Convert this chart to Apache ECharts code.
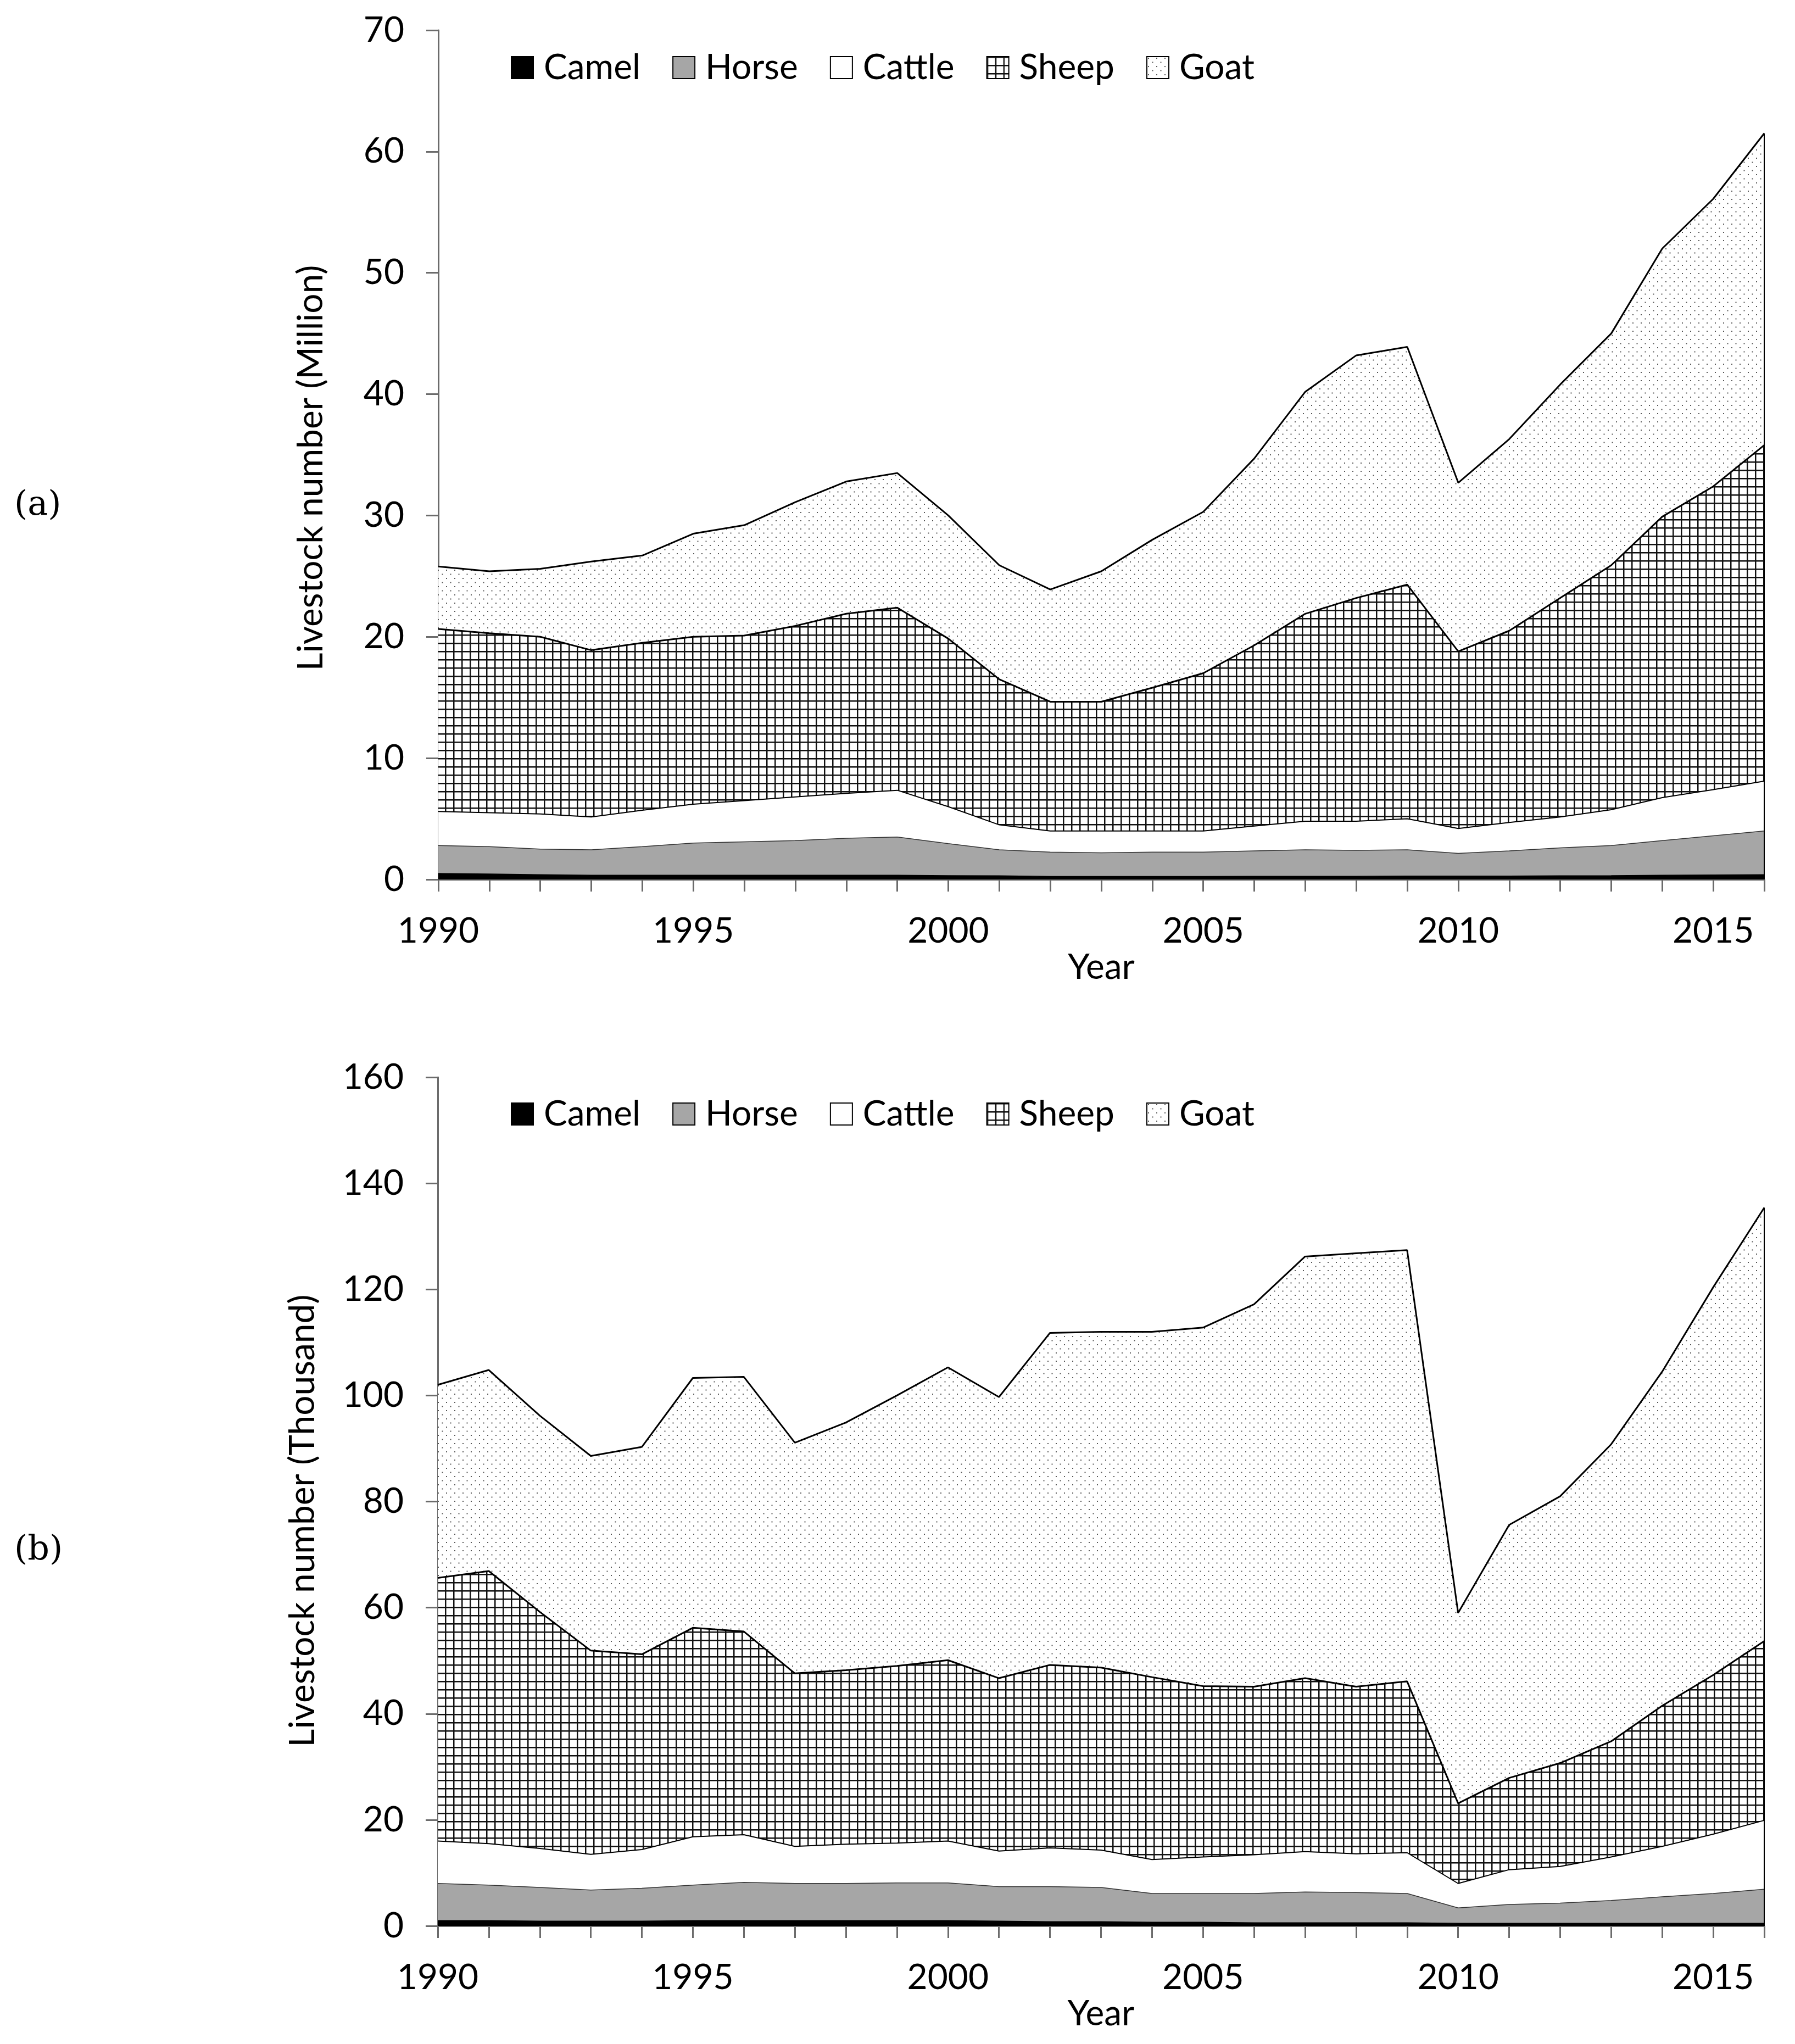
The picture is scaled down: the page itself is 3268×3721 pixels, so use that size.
<!DOCTYPE html>
<html>
<head>
<meta charset="utf-8">
<script src="https://cdn.jsdelivr.net/npm/echarts@6/dist/echarts.min.js"></script>
<style>
html,body{margin:0;padding:0;background:#fff;}
#chart{width:3268px;height:3721px;}
</style>
</head>
<body>
<div id="chart"></div>
<script>
// ---------- DATA ----------
const years = ['1990','1991','1992','1993','1994','1995','1996','1997','1998','1999','2000','2001','2002','2003','2004','2005','2006','2007','2008','2009','2010','2011','2012','2013','2014','2015','2016'];
const seriesNames = ['Camel','Horse','Cattle','Sheep','Goat'];

// (a) Million
const camelA  = [0.5,0.45,0.4,0.35,0.35,0.35,0.35,0.35,0.35,0.35,0.32,0.3,0.25,0.25,0.25,0.25,0.26,0.26,0.26,0.28,0.28,0.28,0.3,0.32,0.35,0.37,0.4];
const horseA  = [2.3,2.25,2.1,2.1,2.35,2.65,2.75,2.85,3.05,3.15,2.63,2.15,2.0,1.95,2.0,2.0,2.09,2.19,2.14,2.17,1.87,2.07,2.3,2.48,2.85,3.23,3.6];
const cattleA = [2.8,2.8,2.9,2.7,3.0,3.2,3.4,3.6,3.7,3.85,3.05,2.05,1.75,1.8,1.75,1.75,2.05,2.35,2.4,2.55,2.05,2.35,2.55,2.95,3.55,3.8,4.1];
const sheepA  = [15.05,14.8,14.6,13.75,13.8,13.8,13.6,14.1,14.8,15.05,13.85,12.0,10.65,10.65,11.8,13.0,14.9,17.1,18.4,19.3,14.6,15.8,18.05,20.15,23.15,25.0,27.7];
const goatA   = [5.15,5.1,5.6,7.3,7.2,8.5,9.1,10.2,10.9,11.1,10.15,9.4,9.25,10.75,12.2,13.3,15.4,18.3,20.0,19.6,13.9,15.8,17.6,19.1,22.1,23.7,25.7];

// (b) Thousand
const camelB  = [1.0,1.0,0.9,0.9,0.9,1.0,1.0,1.0,1.0,1.0,1.0,0.9,0.8,0.8,0.7,0.7,0.6,0.6,0.6,0.6,0.5,0.5,0.5,0.5,0.5,0.5,0.5];
const horseB  = [7.0,6.7,6.35,5.85,6.2,6.7,7.2,7.0,7.0,7.1,7.1,6.5,6.6,6.45,5.4,5.4,5.5,5.8,5.7,5.5,2.9,3.55,3.8,4.3,5.0,5.6,6.4];
const cattleB = [8.0,7.8,7.35,6.75,7.3,9.1,9.0,7.0,7.4,7.5,7.9,6.7,7.3,7.05,6.4,6.9,7.3,7.6,7.3,7.7,4.6,6.55,6.9,8.2,9.5,11.2,13.0];
const sheepB  = [49.6,51.4,44.6,38.4,36.8,39.4,38.3,32.6,32.8,33.4,34.1,32.6,34.5,34.4,34.4,32.2,31.7,32.7,31.5,32.3,15.1,17.3,19.5,21.8,26.5,30.0,33.8];
const goatB   = [36.4,37.9,37.0,36.7,39.1,47.1,48.0,43.5,46.7,51.0,55.2,53.0,62.6,63.3,65.1,67.6,72.1,79.5,81.7,81.3,35.9,47.7,50.3,56.0,63.0,73.1,81.7];

const yTitleA = 'Livestock number (Million)';
const yTitleB = 'Livestock number (Thousand)';
const xTitle = 'Year';

// ---------- PATTERNS ----------
function gridPattern(){
  const c=document.createElement('canvas'); c.width=15; c.height=15;
  const g=c.getContext('2d');
  g.fillStyle='#fff'; g.fillRect(0,0,15,15);
  g.fillStyle='#111'; g.fillRect(0,0,2.5,15); g.fillRect(0,0,15,2.5);
  return c;
}
function dotPattern(){
  const c=document.createElement('canvas'); c.width=15; c.height=15;
  const g=c.getContext('2d');
  g.fillStyle='#fff'; g.fillRect(0,0,15,15);
  g.fillStyle='#555'; g.fillRect(2,2,2,2); g.fillRect(9.5,9.5,2,2);
  return c;
}
const fills = {
  Camel: '#000000',
  Horse: '#a6a6a6',
  Cattle: '#ffffff',
  Sheep: {image: gridPattern(), repeat: 'repeat'},
  Goat: {image: dotPattern(), repeat: 'repeat'}
};
const lines = {
  Camel: {color:'#000', width:1.5},
  Horse: {color:'#333', width:1.5},
  Cattle: {color:'#000', width:2},
  Sheep: {color:'#000', width:3},
  Goat: {color:'#000', width:3}
};

const FONT = 'Lato';
const FS = 64;
const chart = echarts.init(document.getElementById('chart'), null, {renderer:'canvas'});

function makeSeries(idx, arrays, stackName){
  return seriesNames.map((n,i)=>{
    const s = {
      name: n, type: 'line', stack: stackName,
      xAxisIndex: idx, yAxisIndex: idx,
      showSymbol: false, symbol: 'none', silent: true,
      lineStyle: lines[n],
      itemStyle: {color: fills[n], borderColor:'#000', borderWidth:2},
      areaStyle: {color: fills[n], opacity: 1},
      data: arrays[i],
      z: 2
    };
    if (n === 'Goat') {
      const last = years.length-1;
      const total = arrays.reduce((acc,a)=>acc + a[last], 0);
      s.markLine = {
        symbol: 'none', silent: true, label: {show:false},
        lineStyle: {color:'#000', width:2, type:'solid'},
        data: [[{coord:[years[last],0]},{coord:[years[last],total]}]]
      };
    }
    return s;
  });
}

function xAxis(idx){
  return {
    gridIndex: idx, type: 'category', data: years, boundaryGap: false,
    name: xTitle, nameLocation: 'middle', nameGap: 128,
    nameTextStyle: {fontFamily: FONT, fontSize: FS, color: '#000'},
    axisLine: {show:true, lineStyle:{color:'#6b6b6b', width:3}},
    axisTick: {show:true, interval: 0, length: 22, lineStyle:{color:'#6b6b6b', width:3}},
    axisLabel: {fontFamily: FONT, fontSize: FS, color:'#000', margin: 62, interval: 4},
    splitLine: {show:false}
  };
}
function yAxis(idx, max, interval, title, gap, shift){
  return {
    gridIndex: idx, type: 'value', min: 0, max: max, interval: interval,
    name: title, nameLocation: 'middle', nameGap: gap, nameRotate: 90,
    nameTextStyle: {fontFamily: FONT, fontSize: FS, color: '#000', padding: [0, shift, 0, 0]},
    axisLine: {show:true, lineStyle:{color:'#6b6b6b', width:3}},
    axisTick: {show:true, length: 22, lineStyle:{color:'#6b6b6b', width:3}},
    axisLabel: {fontFamily: FONT, fontSize: FS, color:'#000', margin: 62},
    splitLine: {show:false}
  };
}
function legend(top){
  return {
    left: 930, top: top, orient: 'horizontal', padding: 0,
    itemWidth: 40, itemHeight: 40, itemGap: 58, icon: 'rect',
    selectedMode: false,
    textStyle: {fontFamily: FONT, fontSize: FS, color: '#000', padding: [0,0,0,14]},
    itemStyle: {borderColor: '#000', borderWidth: 2},
    data: seriesNames
  };
}

chart.setOption({
  animation: false,
  backgroundColor: '#fff',
  grid: [
    {left: 798, right: 56, top: 55, height: 1546},
    {left: 797, right: 56, top: 1961, height: 1545}
  ],
  legend: [legend(91), legend(1996)],
  xAxis: [xAxis(0), xAxis(1)],
  yAxis: [yAxis(0, 70, 10, yTitleA, 200, 48), yAxis(1, 160, 20, yTitleB, 214, 70)],
  graphic: [
    {type:'text', left: 26, top: 890, style:{text:'(a)', font:'62px "DejaVu Serif"', fill:'#000'}},
    {type:'text', left: 26, top: 2792, style:{text:'(b)', font:'62px "DejaVu Serif"', fill:'#000'}}
  ],
  series: [
    ...makeSeries(0, [camelA, horseA, cattleA, sheepA, goatA], 'a'),
    ...makeSeries(1, [camelB, horseB, cattleB, sheepB, goatB], 'b')
  ]
});
</script>
</body>
</html>
